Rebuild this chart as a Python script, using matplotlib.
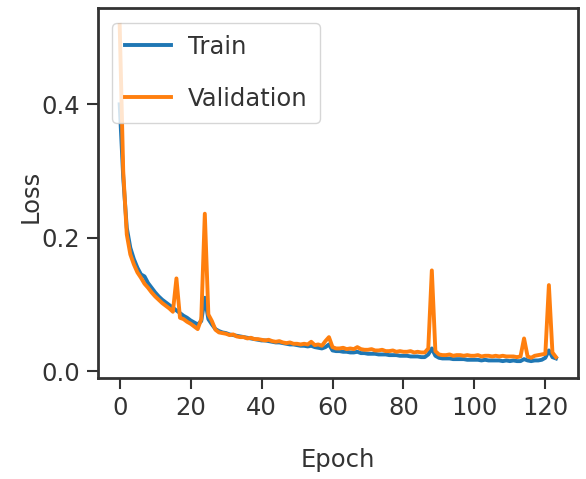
import matplotlib
matplotlib.use('Agg')
import matplotlib.pyplot as plt
import numpy as np

# loss per epoch
train_loss = [
    0.400, 0.290, 0.215, 0.185, 0.168, 0.155, 0.145, 0.142, 0.132, 0.125,
    0.118, 0.112, 0.107, 0.103, 0.099, 0.095, 0.091, 0.087, 0.083, 0.080,
    0.076, 0.073, 0.070, 0.075, 0.110, 0.078, 0.070, 0.063, 0.060, 0.058,
    0.057, 0.055, 0.054, 0.053, 0.052, 0.051, 0.050, 0.049, 0.048, 0.047,
    0.046, 0.046, 0.045, 0.044, 0.043, 0.043, 0.042, 0.041, 0.040, 0.040,
    0.039, 0.038, 0.038, 0.037, 0.038, 0.036, 0.035, 0.034, 0.036, 0.040,
    0.031, 0.030, 0.030, 0.029, 0.029, 0.028, 0.028, 0.029, 0.027, 0.027,
    0.026, 0.026, 0.026, 0.025, 0.025, 0.025, 0.024, 0.024, 0.024, 0.023,
    0.023, 0.023, 0.022, 0.022, 0.022, 0.021, 0.021, 0.025, 0.034, 0.023,
    0.020, 0.019, 0.019, 0.019, 0.018, 0.018, 0.018, 0.018, 0.017, 0.017,
    0.017, 0.017, 0.016, 0.017, 0.016, 0.016, 0.016, 0.016, 0.015, 0.016,
    0.015, 0.016, 0.015, 0.015, 0.018, 0.016, 0.015, 0.016, 0.016, 0.017,
    0.020, 0.031, 0.021, 0.019,
]
val_loss = [
    0.519, 0.300, 0.205, 0.175, 0.160, 0.148, 0.140, 0.131, 0.125, 0.118,
    0.112, 0.107, 0.102, 0.098, 0.094, 0.089, 0.139, 0.080, 0.078, 0.074,
    0.071, 0.067, 0.063, 0.078, 0.236, 0.085, 0.075, 0.062, 0.058, 0.057,
    0.056, 0.054, 0.055, 0.052, 0.051, 0.051, 0.049, 0.050, 0.048, 0.048,
    0.047, 0.046, 0.047, 0.045, 0.044, 0.045, 0.043, 0.042, 0.043, 0.041,
    0.041, 0.040, 0.041, 0.040, 0.044, 0.039, 0.040, 0.038, 0.045, 0.051,
    0.036, 0.034, 0.034, 0.035, 0.033, 0.034, 0.033, 0.036, 0.033, 0.032,
    0.032, 0.033, 0.031, 0.031, 0.032, 0.030, 0.030, 0.031, 0.029, 0.030,
    0.029, 0.029, 0.030, 0.028, 0.029, 0.028, 0.028, 0.034, 0.151, 0.030,
    0.025, 0.024, 0.024, 0.025, 0.023, 0.024, 0.024, 0.023, 0.024, 0.023,
    0.023, 0.024, 0.022, 0.023, 0.023, 0.022, 0.023, 0.022, 0.023, 0.022,
    0.022, 0.022, 0.021, 0.022, 0.049, 0.022, 0.020, 0.023, 0.024, 0.025,
    0.026, 0.129, 0.028, 0.021,
]
epochs = np.arange(len(train_loss))

plt.rcParams['font.family'] = ['DejaVu Sans']
fs = 17.5

fig = plt.figure(figsize=(5.86, 4.79), dpi=100)
ax = fig.add_axes([0.167, 0.211, 0.819, 0.772])

ax.plot(epochs, train_loss, color='#1f77b4', lw=2.8, label='Train')
ax.plot(epochs, val_loss, color='#ff7f0e', lw=2.8, label='Validation')

ax.set_xlabel('Epoch', fontsize=fs, color='#333333')
ax.set_ylabel('Loss', fontsize=fs, color='#333333')
ax.xaxis.set_label_coords(0.5, -0.19)
ax.yaxis.set_label_coords(-0.115, 0.49)
ax.set_yticks([0.0, 0.2, 0.4])
ax.set_xticks([0, 20, 40, 60, 80, 100, 120])
ax.tick_params(labelsize=fs, length=8, width=1.5, pad=5,
               color='#333333', labelcolor='#333333')
for s in ax.spines.values():
    s.set_linewidth(2)
    s.set_color('#333333')
ax.legend(loc='upper left', fontsize=fs, handlelength=1.9, handletextpad=0.7,
          labelspacing=1.15, borderpad=0.5, borderaxespad=0.6,
          labelcolor='#333333')

fig.savefig('out.png', dpi=100)
